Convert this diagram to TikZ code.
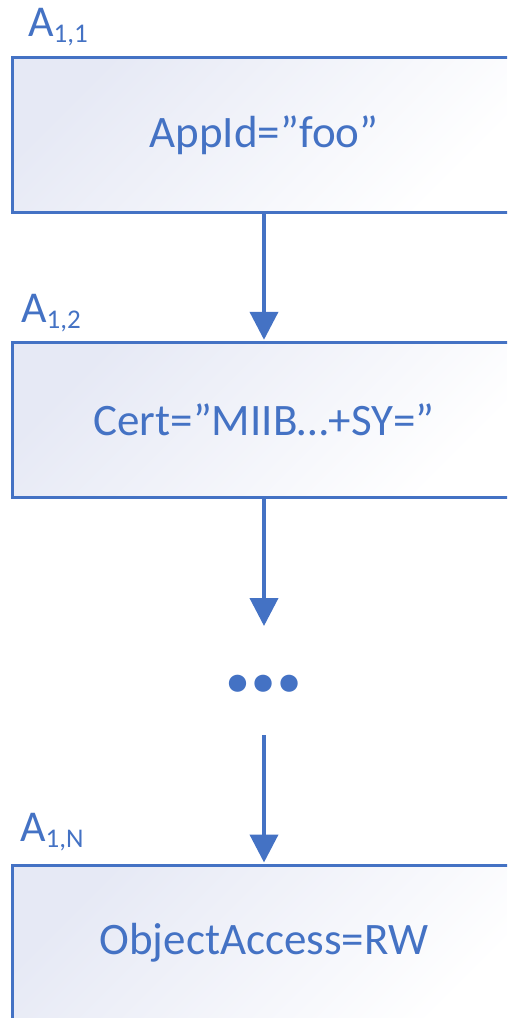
\documentclass[tikz,border=0pt]{standalone}
\usepackage{fontspec}
\setmainfont{Carlito}
\usetikzlibrary{arrows.meta}
\definecolor{accent}{RGB}{68,114,196}
\definecolor{wash}{RGB}{230,233,245}
\newcommand{\idx}[1]{{\fontsize{27}{27}\selectfont\raisebox{-6pt}{#1}}}
\tikzset{
  stage/.style={draw=accent, line width=3pt, left color=wash, right color=white,
    shading angle=45, minimum width=504pt, minimum height=155pt,
    text=accent, font=\fontsize{45}{54}\selectfont, inner sep=0pt},
  tag/.style={anchor=base west, text=accent, font=\fontsize{44}{50}\selectfont, inner sep=0pt},
  conn/.style={draw=accent, line width=4pt, -{Triangle[width=28pt,length=28pt]}},
}
\begin{document}
\begin{tikzpicture}[x=1pt,y=1pt]
  \useasboundingbox (0,0) rectangle (507,-1018);
  \clip (0,0) rectangle (507,-1018);

  % chain of attribute boxes
  \node[stage] (b1) at (264,-135) {AppId=”foo”};
  \node[stage] (b2) at (264,-420.3) {Cert=”MIIB…+SY=”};
  \node[stage, minimum height=170pt] (bn) at (264,-950.5) {};
  \node[text=accent, font=\fontsize{45}{54}\selectfont] (bntext) at (264,-943) {ObjectAccess=RW};

  % attribute indices
  \node[tag] (l1) at (28,-36) {A\idx{1,1}};
  \node[tag] (l2) at (21,-322) {A\idx{1,2}};
  \node[tag] (ln) at (20,-841) {A\idx{1,N}};

  % elided middle of the chain
  \node[text=accent, font=\fontsize{116}{116}\selectfont\bfseries, inner sep=0pt] (dots) at (264,-684) {…};
  \coordinate (gapin) at (264,-626);
  \coordinate (gapout) at (264,-735);

  % connectors
  \draw[conn] (b1.south) -- ([yshift=1.5pt]b2.north);
  \draw[conn] (b2.south) -- (gapin);
  \draw[conn] (gapout) -- ([yshift=1.5pt]bn.north);
\end{tikzpicture}
\end{document}
